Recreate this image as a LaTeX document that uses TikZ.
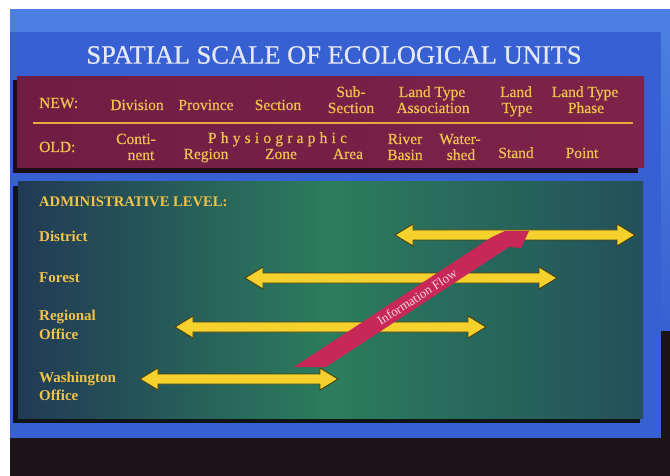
\documentclass[tikz,border=0pt]{standalone}
\usepackage{fontspec}
\setmainfont{Liberation Serif}
\usetikzlibrary{calc}
\definecolor{bluemain}{HTML}{3761D2}
\definecolor{bluelight}{HTML}{4C7FE0}
\definecolor{darkbot}{HTML}{1B1418}
\definecolor{maroonL}{HTML}{6F1D44}
\definecolor{maroonR}{HTML}{7E234A}
\definecolor{maroonshadow}{HTML}{1E0E16}
\definecolor{tabgold}{HTML}{F0C24E}
\definecolor{goldline}{HTML}{E9A93C}
\definecolor{admgold}{HTML}{F2C348}
\definecolor{arrowyellow}{HTML}{F5D12E}
\definecolor{arrowedge}{HTML}{4A3F12}
\definecolor{greenL}{HTML}{213A55}
\definecolor{greenM}{HTML}{2C7D5D}
\definecolor{greenR}{HTML}{23505A}
\definecolor{greenshadow}{HTML}{0F1419}
\definecolor{flowred}{HTML}{C82858}
\definecolor{flowtextc}{HTML}{F3D5E2}
\definecolor{titlewhite}{HTML}{E6E8F5}
\tikzset{
  titletxt/.style={text=titlewhite, font=\fontsize{26.5}{28}\selectfont\addfontfeature{FakeBold=0.6}, inner sep=0pt},
  tabtxt/.style={text=tabgold, font=\fontsize{15.5}{16}\selectfont\addfontfeature{FakeBold=0.5}, inner sep=0pt, anchor=base},
  admtxt/.style={text=admgold, font=\fontsize{15}{16}\selectfont\bfseries, inner sep=0pt, anchor=base west},
  admhead/.style={text=admgold, font=\fontsize{14.6}{16}\selectfont\bfseries, inner sep=0pt, anchor=base west},
  rangearrow/.style={fill=arrowyellow, draw=arrowedge, line width=0.9pt, line join=miter},
  flowtxt/.style={text=flowtextc, font=\fontsize{13}{14}\selectfont, inner sep=0pt},
}
\newcommand\rangebar[2]{%
  \path[rangearrow] (#1) -- ($(#1)+(18,-11)$) -- ($(#1)+(18,-5)$) -- ($(#2)+(-18,-5)$)
    -- ($(#2)+(-18,-11)$) -- (#2) -- ($(#2)+(-18,11)$) -- ($(#2)+(-18,5)$)
    -- ($(#1)+(18,5)$) -- ($(#1)+(18,11)$) -- cycle;}
\begin{document}
\begin{tikzpicture}[x=1pt,y=-1pt]
\useasboundingbox (0,0) rectangle (670,476);
\fill[white] (0,0) rectangle (670,476);
\fill[darkbot] (10,9) rectangle (670,476);
\fill[bluemain] (10,9) rectangle (661,438);
\fill[bluelight] (10,9) rectangle (670,32);
\shade[top color=bluelight, bottom color=bluemain] (661,32) rectangle (670,330);

% title
\node[titletxt] (title) at (334,55) {SPATIAL SCALE OF ECOLOGICAL UNITS};

% maroon table
\fill[maroonshadow] (13,80) rectangle (638,173);
\shade[left color=maroonL, right color=maroonR] (17,77) rectangle (644,168);
\coordinate (ruleL) at (33,123);
\coordinate (ruleR) at (633,123);
\draw[goldline, line width=2pt] (ruleL) -- (ruleR);

\node[tabtxt, anchor=base west] (new) at (39,108) {NEW:};
\node[tabtxt] (division) at (137,110) {Division};
\node[tabtxt] (province) at (206,110) {Province};
\node[tabtxt] (section) at (278,110) {Section};
\node[tabtxt] (subA) at (351,97) {Sub-};
\node[tabtxt] (subB) at (351,113) {Section};
\node[tabtxt] (ltaA) at (432,97) {Land Type};
\node[tabtxt] (ltaB) at (433,113) {Association};
\node[tabtxt] (ltA) at (516,97) {Land};
\node[tabtxt] (ltB) at (517,113) {Type};
\node[tabtxt] (ltpA) at (585,97) {Land Type};
\node[tabtxt] (ltpB) at (586,113) {Phase};

\node[tabtxt, anchor=base west] (old) at (39,152) {OLD:};
\node[tabtxt] (contA) at (136,144) {Conti-};
\node[tabtxt] (contB) at (141,160) {nent};
\node[tabtxt] (physio) at (277.5,143) {\makebox[139pt][s]{P\hfil h\hfil y\hfil s\hfil i\hfil o\hfil g\hfil r\hfil a\hfil p\hfil h\hfil i\hfil c}};
\node[tabtxt] (region) at (206,159) {Region};
\node[tabtxt] (zone) at (281,159) {Zone};
\node[tabtxt] (area) at (348,159) {Area};
\node[tabtxt] (riverA) at (405,144) {River};
\node[tabtxt] (riverB) at (405,160) {Basin};
\node[tabtxt] (waterA) at (460,144) {Water-};
\node[tabtxt] (waterB) at (461,160) {shed};
\node[tabtxt] (stand) at (516,158) {Stand};
\node[tabtxt] (point) at (582,158) {Point};

% green panel
\fill[greenshadow] (13,186) rectangle (640,423);
\shade[left color=greenL, right color=greenR, middle color=greenM] (18,182) rectangle (643,418);

\node[admhead] (admin) at (39,207) {ADMINISTRATIVE LEVEL:};
\node[admtxt] (district) at (39,241) {District};
\node[admtxt] (forest) at (39,282) {Forest};
\node[admtxt] (regionalA) at (39,320) {Regional};
\node[admtxt] (regionalB) at (39,339) {Office};
\node[admtxt] (washA) at (39,382) {Washington};
\node[admtxt] (washB) at (39,400) {Office};

% range arrows
\coordinate (dL) at (395,235); \coordinate (dR) at (635,235);
\coordinate (fL) at (245,278); \coordinate (fR) at (557,278);
\coordinate (rL) at (175,327); \coordinate (rR) at (486,327);
\coordinate (wL) at (140,379); \coordinate (wR) at (338,379);
\rangebar{dL}{dR}
\rangebar{fL}{fR}
\rangebar{rL}{rR}
\rangebar{wL}{wR}

% information flow arrow
\coordinate (flowtail) at (310,367);
\coordinate (flowhead) at (517,231);
\fill[flowred] ($(flowtail)+(-16,0)$) -- ($(flowtail)+(16,0)$) -- ($(flowhead)+(-8,16)$)
  -- ($(flowhead)+(4,17)$) -- ($(flowhead)+(12,0)$) -- ($(flowhead)+(-12,0)$)
  -- ($(flowhead)+(-25,6)$) -- cycle;
\node[flowtxt, rotate=33] (flowlabel) at (417,297) {Information Flow};
\end{tikzpicture}
\end{document}
